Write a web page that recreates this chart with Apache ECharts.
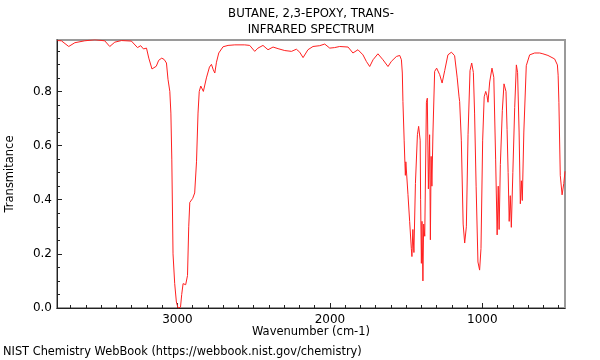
<!DOCTYPE html>
<html><head><meta charset="utf-8">
<script src="https://cdn.jsdelivr.net/npm/echarts@6/dist/echarts.min.js"></script>
<style>html,body{margin:0;padding:0;background:#fff}#c{width:600px;height:360px}</style>
</head><body><div id="c"></div>
<script>
const titleLines = ['BUTANE, 2,3-EPOXY, TRANS-', 'INFRARED SPECTRUM'];
const xAxisName = 'Wavenumber (cm-1)';
const yAxisName = 'Transmitance';
const footerText = 'NIST Chemistry WebBook (https://webbook.nist.gov/chemistry)';
const xMajorTicks = [1000, 2000, 3000];
const xMinorTicks = [500, 600, 700, 800, 900, 1100, 1200, 1300, 1400, 1500, 1600, 1700, 1800, 1900, 2100, 2200, 2300, 2400, 2500, 2600, 2700, 2800, 2900, 3100, 3200, 3300, 3400, 3500, 3600, 3700];
const yMajorTicks = [0, 0.2, 0.4, 0.6, 0.8];
const yMinorTicks = [0.05, 0.1, 0.15, 0.25, 0.3, 0.35, 0.45, 0.5, 0.55, 0.65, 0.7, 0.75, 0.85, 0.9, 0.95];

const wavenumber = [3787, 3761, 3713, 3673, 3608, 3542, 3477, 3444, 3411, 3367, 3302, 3262, 3241, 3223, 3203, 3188, 3167, 3155, 3139, 3123, 3103, 3087, 3072, 3062, 3050, 3043, 3037, 3029, 3018, 3007, 2996, 2980, 2972, 2963, 2946, 2934, 2926, 2919, 2900, 2887, 2875, 2865, 2857, 2847, 2830, 2810, 2790, 2777, 2765, 2755, 2744, 2729, 2701, 2668, 2624, 2559, 2526, 2493, 2472, 2439, 2406, 2373, 2340, 2296, 2252, 2220, 2198, 2176, 2144, 2111, 2067, 2034, 2001, 1969, 1936, 1881, 1849, 1816, 1783, 1761, 1739, 1717, 1685, 1652, 1619, 1597, 1564, 1542, 1531, 1525, 1521, 1513, 1508, 1505, 1502, 1488, 1477, 1466, 1462, 1456, 1449, 1439, 1426, 1418, 1408, 1405, 1400, 1396, 1390, 1385, 1378, 1367, 1361, 1354, 1346, 1341, 1336, 1331, 1324, 1313, 1300, 1280, 1264, 1247, 1226, 1203, 1182, 1165, 1153, 1149, 1138, 1126, 1116, 1109, 1105, 1094, 1081, 1070, 1059, 1051, 1041, 1029, 1018, 1009, 998, 988, 978, 970, 963, 959, 952, 937, 925, 913, 903, 896, 890, 882, 869, 858, 845, 838, 831, 824, 817, 810, 800, 788, 777, 769, 759, 751, 744, 738, 728, 712, 690, 657, 624, 603, 570, 526, 508, 503, 498, 489, 477, 466, 458];
const transmittance = [0.988, 0.987, 0.966, 0.980, 0.987, 0.991, 0.987, 0.966, 0.982, 0.988, 0.986, 0.962, 0.969, 0.957, 0.960, 0.923, 0.883, 0.880, 0.893, 0.915, 0.923, 0.918, 0.905, 0.845, 0.80, 0.72, 0.55, 0.20, 0.09, 0.022, 0.0, 0.003, 0.05, 0.09, 0.086, 0.12, 0.30, 0.39, 0.405, 0.425, 0.54, 0.72, 0.80, 0.82, 0.80, 0.85, 0.89, 0.90, 0.88, 0.868, 0.908, 0.942, 0.965, 0.970, 0.972, 0.972, 0.970, 0.948, 0.960, 0.970, 0.954, 0.964, 0.958, 0.951, 0.948, 0.956, 0.945, 0.925, 0.954, 0.966, 0.969, 0.975, 0.960, 0.962, 0.966, 0.964, 0.942, 0.954, 0.935, 0.911, 0.892, 0.917, 0.939, 0.917, 0.892, 0.911, 0.929, 0.933, 0.917, 0.868, 0.763, 0.62, 0.535, 0.49, 0.54, 0.42, 0.32, 0.22, 0.19, 0.29, 0.205, 0.46, 0.64, 0.671, 0.62, 0.40, 0.165, 0.32, 0.10, 0.31, 0.265, 0.76, 0.775, 0.44, 0.64, 0.252, 0.56, 0.45, 0.65, 0.874, 0.886, 0.862, 0.831, 0.877, 0.935, 0.945, 0.932, 0.85, 0.78, 0.763, 0.62, 0.31, 0.24, 0.235, 0.30, 0.64, 0.877, 0.905, 0.87, 0.72, 0.45, 0.17, 0.14, 0.22, 0.62, 0.78, 0.80, 0.785, 0.76, 0.755, 0.835, 0.886, 0.852, 0.55, 0.27, 0.45, 0.29, 0.53, 0.73, 0.828, 0.80, 0.66, 0.50, 0.32, 0.415, 0.298, 0.50, 0.74, 0.898, 0.87, 0.65, 0.385, 0.47, 0.397, 0.65, 0.895, 0.935, 0.942, 0.942, 0.939, 0.933, 0.920, 0.898, 0.86, 0.76, 0.49, 0.418, 0.46, 0.505];

const FONT = 'DejaVu Sans';
const chart = echarts.init(document.getElementById('c'), null, {renderer: 'canvas'});
const xRange = {min: 458, max: 3790};
const yRange = {min: 0, max: 0.99};
function txt(text, x, y, size, align, extra) {
  return Object.assign({type: 'text', x: x, y: y, style: {text: text, fontSize: size, fontFamily: FONT, fill: '#000', align: align, verticalAlign: 'middle'}}, extra || {});
}
chart.setOption({
  animation: false,
  backgroundColor: '#fff',
  grid: {left: 57, right: 35, top: 40, bottom: 52, show: true, borderColor: '#9a9a9a', borderWidth: 2, backgroundColor: 'transparent'},
  xAxis: [
    {type: 'value', min: xRange.min, max: xRange.max, inverse: true, position: 'bottom',
     axisLine: {show: true, lineStyle: {color: '#222', width: 1}},
     axisTick: {show: true, inside: true, length: 5, customValues: xMajorTicks, lineStyle: {color: '#222'}},
     axisLabel: {show: true, customValues: xMajorTicks, margin: 6, fontSize: 12, color: '#000', fontFamily: FONT,
                 formatter: v => String(v)},
     splitLine: {show: false}},
    {type: 'value', min: xRange.min, max: xRange.max, inverse: true, position: 'bottom',
     axisLine: {show: false},
     axisTick: {show: true, inside: true, length: 3, customValues: xMinorTicks, lineStyle: {color: '#222'}},
     axisLabel: {show: false}, splitLine: {show: false}}
  ],
  yAxis: [
    {type: 'value', min: yRange.min, max: yRange.max, position: 'left',
     axisLine: {show: true, lineStyle: {color: '#222', width: 1}},
     axisTick: {show: true, inside: true, length: 5, customValues: yMajorTicks, lineStyle: {color: '#222'}},
     axisLabel: {show: true, customValues: yMajorTicks, margin: 5, fontSize: 12, color: '#000', fontFamily: FONT,
                 formatter: v => Number(v).toFixed(1)},
     splitLine: {show: false}},
    {type: 'value', min: yRange.min, max: yRange.max, position: 'left',
     axisLine: {show: false},
     axisTick: {show: true, inside: true, length: 3, customValues: yMinorTicks, lineStyle: {color: '#222'}},
     axisLabel: {show: false}, splitLine: {show: false}}
  ],
  graphic: [
    txt(titleLines[0], 311, 14, 11.7, 'center'),
    txt(titleLines[1], 311, 30, 11.7, 'center'),
    txt(xAxisName, 311, 332, 11.5, 'center'),
    txt(footerText, 3, 352, 11.4, 'left'),
    txt(yAxisName, 10, 174, 11.5, 'center', {rotation: Math.PI / 2})
  ],
  series: [{
    type: 'line', xAxisIndex: 0, yAxisIndex: 0, showSymbol: false, symbol: 'none',
    data: wavenumber.map((w, i) => [w, transmittance[i]]),
    lineStyle: {color: '#ff2020', width: 1}, z: 3
  }]
});
</script></body></html>
